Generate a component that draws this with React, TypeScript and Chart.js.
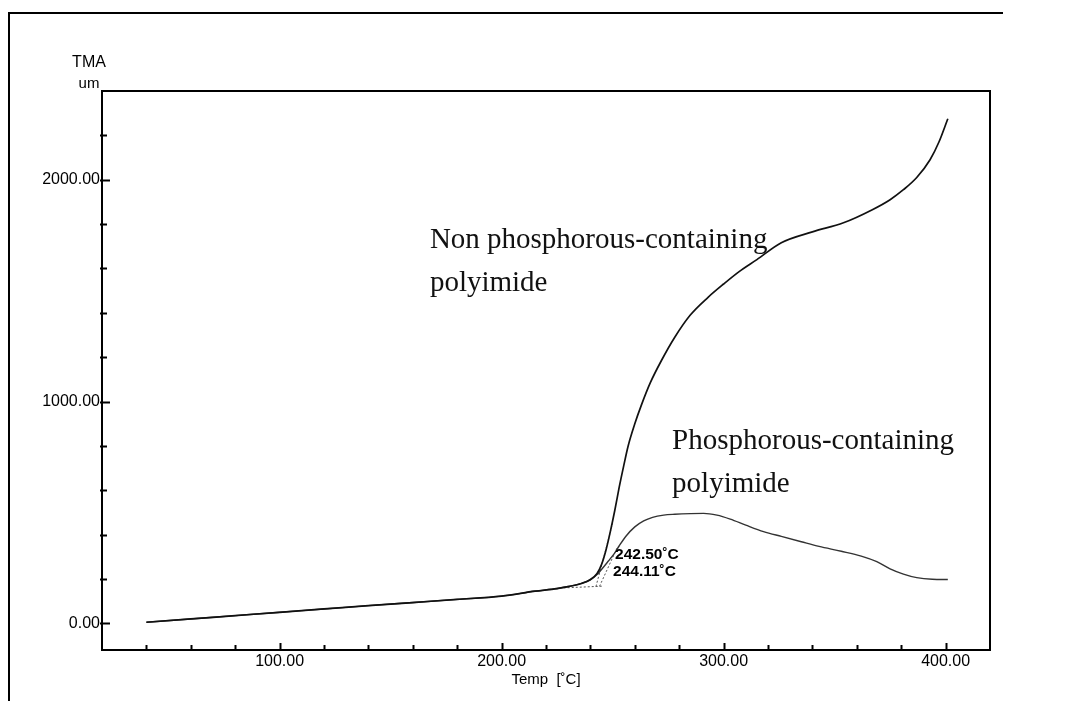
import React, { useEffect, useRef } from 'react';
import { Chart, registerables } from 'chart.js';

Chart.register(...registerables);

// ---- data ----
const baselineTemp = [40, 60, 80, 100, 120, 140, 160, 180, 200, 215, 225, 230, 236];
const baselineTMA = [5, 20, 35, 50, 65, 80, 94, 108, 123, 145, 157, 166, 180];

const nonPhosTemp = [240, 243, 245, 247, 249, 251, 253, 255, 257, 260, 263, 267, 272, 278, 285, 293, 300, 307, 315, 326, 340, 354, 367, 375, 381, 387, 393, 397, 401];
const nonPhosTMA = [198, 225, 265, 330, 415, 510, 615, 710, 800, 900, 985, 1085, 1185, 1290, 1390, 1470, 1530, 1586, 1640, 1716, 1765, 1806, 1865, 1910, 1955, 2010, 2090, 2170, 2275];

const phosTemp = [240, 243, 245, 248, 251, 253, 256, 260, 264, 268, 273, 278, 285, 291, 297, 303, 310, 318, 326, 335, 343, 353, 362, 369, 375, 381, 387, 394, 401];
const phosTMA = [196, 220, 243, 280, 318, 350, 393, 435, 462, 478, 488, 492, 495, 496, 488, 470, 443, 414, 392, 368, 347, 325, 303, 278, 246, 222, 206, 199, 198];

// onset construction lines (dotted)
const baseExtTemp = [228, 246];
const baseExtTMA = [160, 168];
const tangent1Temp = [242.5, 250];
const tangent1TMA = [166, 450];
const tangent2Temp = [244.11, 252];
const tangent2TMA = [167, 340];

// axes
const xRange = [20, 420];
const yRange = [-120, 2400];
const xTickValues = [40, 60, 80, 100, 120, 140, 160, 180, 200, 220, 240, 260, 280, 300, 320, 340, 360, 380, 400];
const xMajorTicks = [100, 200, 300, 400];
const yTickValues = [0, 200, 400, 600, 800, 1000, 1200, 1400, 1600, 1800, 2000, 2200];
const yMajorTicks = [0, 1000, 2000];
const xAxisTitle = 'Temp  [\u02DAC]';
const yAxisTitle = ['TMA', 'um'];

// text annotations
const seriesLabelLines = [
  ['Non phosphorous-containing', 'polyimide'],
  ['Phosphorous-containing', 'polyimide'],
];
const seriesLabelTemp = [167.7, 276.8];
const seriesLabelTMA = [1692, 786];
const onsetLabels = ['242.50\u02DAC', '244.11\u02DAC'];
const onsetLabelTemp = [251.1, 250.2];
const onsetLabelTMA = [308, 234];

const SANS = '"Liberation Sans", Arial, sans-serif';
const SERIF = '"Liberation Serif", "Times New Roman", serif';

const toPoints = (xs: number[], ys: number[]) => xs.map((x, i) => ({ x, y: ys[i] }));

const framePlugin = {
  id: 'tmaFrame',
  beforeDraw(chart: any) {
    const ctx = chart.ctx;
    ctx.save();
    ctx.fillStyle = '#ffffff';
    ctx.fillRect(0, 0, chart.width, chart.height);
    // outer frame (left + top)
    ctx.strokeStyle = '#000';
    ctx.lineWidth = 2;
    ctx.beginPath();
    ctx.moveTo(9, 701);
    ctx.lineTo(9, 13);
    ctx.lineTo(1003, 13);
    ctx.stroke();
    ctx.restore();
  },
  afterDraw(chart: any) {
    const ctx = chart.ctx;
    const { left, right, top, bottom } = chart.chartArea;
    const xs = chart.scales.x;
    const ys = chart.scales.y;
    ctx.save();
    // plot box
    ctx.strokeStyle = '#000';
    ctx.lineWidth = 2;
    ctx.strokeRect(left, top, right - left, bottom - top);
    // inner ticks
    ctx.lineWidth = 2;
    xs.ticks.forEach((t: any) => {
      const px = Math.round(xs.getPixelForValue(t.value)) + 0.5;
      const len = xMajorTicks.includes(t.value) ? 7 : 5;
      ctx.beginPath();
      ctx.moveTo(px, bottom);
      ctx.lineTo(px, bottom - len);
      ctx.stroke();
    });
    ys.ticks.forEach((t: any) => {
      const py = Math.round(ys.getPixelForValue(t.value)) + 0.5;
      const len = yMajorTicks.includes(t.value) ? 8 : 5;
      ctx.beginPath();
      ctx.moveTo(left - 2, py);
      ctx.lineTo(left + len, py);
      ctx.stroke();
    });
    // y axis title
    ctx.fillStyle = '#000';
    ctx.textAlign = 'center';
    ctx.textBaseline = 'middle';
    ctx.font = `16px ${SANS}`;
    ctx.fillText(yAxisTitle[0], 89, 63);
    ctx.font = `15px ${SANS}`;
    ctx.fillText(yAxisTitle[1], 89, 84);
    // series labels
    ctx.textAlign = 'left';
    ctx.textBaseline = 'alphabetic';
    ctx.fillStyle = '#111';
    ctx.font = `29px ${SERIF}`;
    seriesLabelLines.forEach((lines, i) => {
      const px = xs.getPixelForValue(seriesLabelTemp[i]);
      const py = ys.getPixelForValue(seriesLabelTMA[i]);
      lines.forEach((line, j) => ctx.fillText(line, px, py + j * 43));
    });
    // onset labels
    ctx.fillStyle = '#000';
    ctx.textBaseline = 'middle';
    ctx.font = `bold 15.5px ${SANS}`;
    onsetLabels.forEach((s, i) => {
      ctx.fillText(s, xs.getPixelForValue(onsetLabelTemp[i]), ys.getPixelForValue(onsetLabelTMA[i]));
    });
    ctx.restore();
  },
};

export default function App() {
  const ref = useRef<HTMLCanvasElement>(null);
  useEffect(() => {
    document.body.style.margin = '0';
    const canvas = ref.current;
    if (!canvas) return;
    const solid = { pointRadius: 0, fill: false, cubicInterpolationMode: 'monotone' as const };
    const dotted = { pointRadius: 0, fill: false, borderDash: [2, 2], borderWidth: 1, borderColor: '#555', tension: 0 };
    const chart = new Chart(canvas, {
      type: 'line',
      data: {
        datasets: [
          {
            label: 'Non phosphorous-containing polyimide',
            data: toPoints(baselineTemp.concat(nonPhosTemp), baselineTMA.concat(nonPhosTMA)),
            borderColor: '#111',
            borderWidth: 1.7,
            ...solid,
          },
          {
            label: 'Phosphorous-containing polyimide',
            data: toPoints(baselineTemp.concat(phosTemp), baselineTMA.concat(phosTMA)),
            borderColor: '#333',
            borderWidth: 1.4,
            ...solid,
          },
          { label: 'baseline extension', data: toPoints(baseExtTemp, baseExtTMA), ...dotted },
          { label: 'tangent 1', data: toPoints(tangent1Temp, tangent1TMA), ...dotted },
          { label: 'tangent 2', data: toPoints(tangent2Temp, tangent2TMA), ...dotted },
        ],
      },
      options: {
        responsive: false,
        animation: false,
        devicePixelRatio: 1,
        layout: { padding: { left: 0, top: 91, right: 76, bottom: 0 } },
        plugins: { legend: { display: false }, tooltip: { enabled: false }, title: { display: false } },
        scales: {
          x: {
            type: 'linear',
            min: xRange[0],
            max: xRange[1],
            afterBuildTicks: (scale: any) => {
              scale.ticks = xTickValues.map((v) => ({ value: v }));
            },
            afterFit: (scale: any) => {
              scale.height = 51;
            },
            grid: { display: false, drawTicks: false },
            border: { display: false },
            ticks: {
              autoSkip: false,
              maxRotation: 0,
              padding: 2,
              color: '#000',
              font: { family: SANS, size: 16 },
              callback: (v: any) => (xMajorTicks.includes(Number(v)) ? Number(v).toFixed(2) : ''),
            },
            title: {
              display: true,
              text: xAxisTitle,
              color: '#000',
              font: { family: SANS, size: 15 },
              padding: { top: 0, bottom: 12 },
            },
          },
          y: {
            type: 'linear',
            min: yRange[0],
            max: yRange[1],
            afterBuildTicks: (scale: any) => {
              scale.ticks = yTickValues.map((v) => ({ value: v }));
            },
            afterFit: (scale: any) => {
              scale.width = 102;
            },
            grid: { display: false, drawTicks: false },
            border: { display: false },
            ticks: {
              autoSkip: false,
              padding: 2,
              color: '#000',
              font: { family: SANS, size: 16 },
              callback: (v: any) => (yMajorTicks.includes(Number(v)) ? Number(v).toFixed(2) : ''),
            },
          },
        },
      },
      plugins: [framePlugin],
    } as any);
    return () => chart.destroy();
  }, []);
  return (
    <div style={{ width: 1066, height: 701 }}>
      <canvas ref={ref} width={1066} height={701} style={{ display: 'block' }} />
    </div>
  );
}
